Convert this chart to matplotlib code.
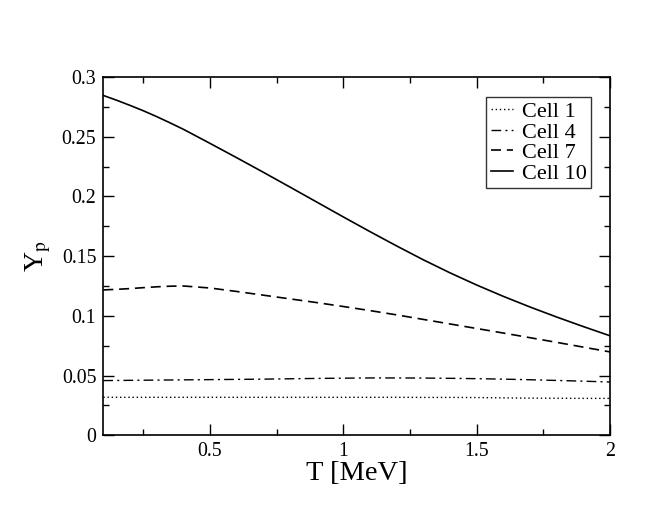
import numpy as np
import matplotlib
matplotlib.use('Agg')
import matplotlib.pyplot as plt
from matplotlib.ticker import MultipleLocator

plt.rcParams['font.family'] = ['Liberation Serif', 'DejaVu Serif']
plt.rcParams['mathtext.fontset'] = 'stix'

# temperature grid [MeV]
T = [0.1, 0.15, 0.2, 0.25, 0.3, 0.35, 0.4, 0.5, 0.6, 0.7, 0.8, 0.9,
     1.0, 1.1, 1.2, 1.3, 1.4, 1.5, 1.6, 1.7, 1.8, 1.9, 2.0]

# proton fraction per cell
cell1 = [0.0318, 0.0318, 0.0318, 0.0318, 0.0318, 0.0318, 0.0318, 0.0318, 0.0318, 0.0318, 0.0318, 0.0318,
         0.0318, 0.0318, 0.0318, 0.0317, 0.0317, 0.0316, 0.0313, 0.0311, 0.0310, 0.0309, 0.0309]
cell4 = [0.0458, 0.0459, 0.0460, 0.0461, 0.0462, 0.0463, 0.0464, 0.0466, 0.0468, 0.0470, 0.0473, 0.0476,
         0.0478, 0.0480, 0.0480, 0.0479, 0.0477, 0.0474, 0.0470, 0.0465, 0.0459, 0.0453, 0.0446]
cell7 = [0.1217, 0.1222, 0.1228, 0.1236, 0.1243, 0.1248, 0.1250, 0.1233, 0.1204, 0.1173, 0.1142, 0.1111,
         0.1078, 0.1044, 0.1008, 0.0970, 0.0932, 0.0894, 0.0856, 0.0817, 0.0778, 0.0738, 0.0698]
cell10 = [0.2845, 0.2805, 0.2762, 0.2717, 0.2668, 0.2616, 0.2562, 0.2444, 0.2324, 0.2202, 0.2078, 0.1953,
          0.1828, 0.1705, 0.1585, 0.1469, 0.1360, 0.1258, 0.1163, 0.1074, 0.0990, 0.0910, 0.0833]

fig = plt.figure(figsize=(6.64, 5.13), dpi=100)
ax = fig.add_axes([0.1556, 0.1515, 0.7631, 0.6985])

ax.plot(T, cell1, color='black', lw=1.0, ls=(0, (1, 2)), label='Cell 1')
ax.plot(T, cell4, color='black', lw=1.0, ls=(0, (7, 3, 1.5, 3)), label='Cell 4')
ax.plot(T, cell7, color='black', lw=1.2, ls=(0, (6, 3.5)), label='Cell 7')
ax.plot(T, cell10, color='black', lw=1.2, ls='-', label='Cell 10')

ax.set_xlim(0.1, 2.0)
ax.set_ylim(0, 0.3)
ax.xaxis.set_minor_locator(MultipleLocator(0.25))
ax.yaxis.set_minor_locator(MultipleLocator(0.025))
ax.set_xticks([0.5, 1, 1.5, 2])
ax.set_xticklabels(['0.5', '1', '1.5', '2'])
ax.set_yticks([0, 0.05, 0.1, 0.15, 0.2, 0.25, 0.3])
ax.set_yticklabels(['0', '0.05', '0.1', '0.15', '0.2', '0.25', '0.3'])

ax.tick_params(which='both', direction='in', top=True, right=True, labelsize=14.3, width=1.0)
ax.tick_params(which='major', length=8, pad=5)
ax.tick_params(which='minor', length=4.5)
for s in ax.spines.values():
    s.set_linewidth(1.2)

ax.set_xlabel('T [MeV]', fontsize=20.5, labelpad=0)
ax.set_ylabel(r'Y$_{\rm p}$', fontsize=20, labelpad=6)

leg = ax.legend(loc='upper right', bbox_to_anchor=(0.9625, 0.944), borderaxespad=0,
                fontsize=16, frameon=True, fancybox=False, handlelength=1.0,
                handletextpad=0.4, labelspacing=0.0, borderpad=0.2)
leg.get_frame().set_edgecolor('black')
leg.get_frame().set_linewidth(1.0)

plt.savefig('out.png', dpi=100)
